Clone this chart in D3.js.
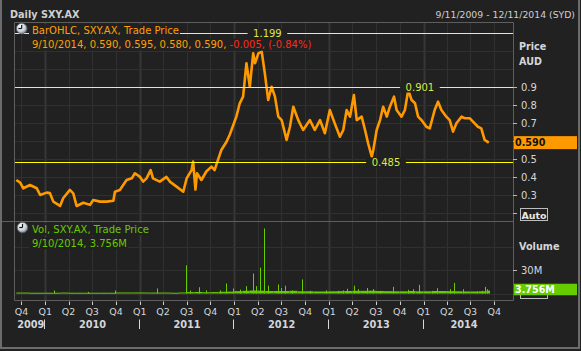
<!DOCTYPE html>
<html>
<head>
<meta charset="utf-8">
<script src="https://cdn.jsdelivr.net/npm/d3@7"></script>
<style>
body { margin: 0; background: #212121; }
svg { display: block; font-family: "DejaVu Sans", sans-serif; }
</style>
</head>
<body>
<div id="chart"></div>
<script>
// ---- data ----
var priceDates = ["2009-09-11","2009-09-26","2009-10-08","2009-11-03","2009-11-29","2009-12-12",
  "2010-01-06","2010-01-19","2010-02-01","2010-02-27","2010-03-11","2010-04-06","2010-04-19","2010-05-02",
  "2010-05-28","2010-06-23","2010-07-05","2010-07-31","2010-08-26","2010-09-21","2010-09-27","2010-10-16",
  "2010-11-11","2010-12-01","2010-12-13","2011-01-02","2011-01-14","2011-01-27","2011-02-12","2011-02-21",
  "2011-03-19","2011-04-14","2011-04-27","2011-05-23","2011-06-18","2011-07-01","2011-07-20","2011-07-26",
  "2011-08-04","2011-08-10","2011-08-27","2011-09-15","2011-10-05","2011-10-17","2011-10-30","2011-11-12",
  "2011-12-02","2011-12-14","2012-01-09","2012-01-22","2012-02-04","2012-02-17","2012-03-01","2012-03-14",
  "2012-03-21","2012-04-03","2012-04-16","2012-04-28","2012-05-11","2012-05-24","2012-06-06","2012-06-19",
  "2012-07-02","2012-07-21","2012-08-03","2012-08-16","2012-09-04","2012-09-23","2012-10-19","2012-11-07",
  "2012-11-27","2012-12-16","2013-01-04","2013-01-23","2013-02-12","2013-02-25","2013-03-10","2013-03-23",
  "2013-04-07","2013-04-18","2013-05-07","2013-05-20","2013-06-01","2013-06-15","2013-06-21","2013-07-04",
  "2013-07-17","2013-07-29","2013-08-12","2013-08-24","2013-09-09","2013-09-19","2013-10-08","2013-10-21",
  "2013-11-03","2013-11-16","2013-11-29","2013-12-11","2013-12-24","2014-01-12","2014-01-25","2014-02-13",
  "2014-02-26","2014-03-11","2014-03-30","2014-04-12","2014-04-25","2014-05-08","2014-05-28","2014-06-09",
  "2014-06-29","2014-07-11","2014-07-30","2014-08-12","2014-08-25","2014-09-10"];
var priceClose = [0.383,0.368,0.337,0.355,0.337,0.300,
  0.313,0.310,0.263,0.239,0.282,0.328,0.309,0.239,
  0.257,0.245,0.272,0.263,0.263,0.268,0.318,0.328,
  0.383,0.392,0.420,0.400,0.374,0.392,0.438,0.392,
  0.374,0.400,0.374,0.346,0.318,0.392,0.438,0.485,
  0.330,0.420,0.383,0.430,0.457,0.438,0.494,0.549,
  0.595,0.632,0.734,0.808,0.845,1.030,0.900,1.085,
  1.030,1.085,1.094,0.974,0.826,0.900,0.845,0.734,
  0.715,0.605,0.678,0.789,0.715,0.660,0.715,0.660,
  0.715,0.642,0.771,0.697,0.623,0.660,0.771,0.734,
  0.854,0.715,0.734,0.660,0.586,0.512,0.549,0.660,
  0.715,0.789,0.734,0.789,0.845,0.771,0.734,0.771,
  0.882,0.826,0.808,0.734,0.715,0.678,0.669,0.771,
  0.817,0.771,0.734,0.715,0.651,0.697,0.734,0.725,
  0.725,0.706,0.678,0.669,0.605,0.590];

// monthly background volume (millions)
var volMonths = ["2009-09","2009-10","2009-11","2009-12",
  "2010-01","2010-02","2010-03","2010-04","2010-05","2010-06","2010-07","2010-08","2010-09","2010-10","2010-11","2010-12",
  "2011-01","2011-02","2011-03","2011-04","2011-05","2011-06","2011-07","2011-08","2011-09","2011-10","2011-11","2011-12",
  "2012-01","2012-02","2012-03","2012-04","2012-05","2012-06","2012-07","2012-08","2012-09","2012-10","2012-11","2012-12",
  "2013-01","2013-02","2013-03","2013-04","2013-05","2013-06","2013-07","2013-08","2013-09","2013-10","2013-11","2013-12",
  "2014-01","2014-02","2014-03","2014-04","2014-05","2014-06","2014-07","2014-08","2014-09"];
var volBase = [1.2,1.2,1.0,1.0,
  1.0,1.0,1.2,1.0,1.0,1.0,1.0,1.0,1.0,1.3,1.3,1.3,
  1.3,1.2,1.2,1.2,1.0,1.3,1.8,2.0,1.6,1.8,2.2,2.4,
  3.0,3.4,3.8,3.6,3.2,3.2,3.2,3.4,2.8,2.8,2.6,2.6,
  2.8,3.0,3.2,3.4,3.4,3.6,3.2,3.0,2.8,2.8,3.2,2.8,
  2.8,3.2,3.2,3.0,2.8,2.6,2.6,2.8,3.6];

// single-day volume spikes (millions)
var volSpikeDates = ["2010-02-04","2010-06-14","2010-09-27","2011-03-09","2011-06-27","2011-07-13","2011-08-18",
  "2011-09-15","2011-11-06","2011-11-29","2011-12-27","2012-01-22","2012-02-17","2012-03-13","2012-03-26",
  "2012-04-08","2012-04-25","2012-05-10","2012-06-18","2012-07-01","2012-07-15","2012-08-09","2012-09-19",
  "2012-10-19","2012-12-20","2013-02-06","2013-02-25","2013-03-10","2013-04-08","2013-04-24","2013-05-26",
  "2013-06-21","2013-07-17","2013-09-06","2013-11-01","2013-11-22","2013-12-15","2014-02-01","2014-02-23",
  "2014-04-13","2014-04-30","2014-06-03","2014-07-25","2014-08-13","2014-08-26","2014-09-02","2014-09-10"];
var volSpikeValues = [3.8,2,3.8,6.4,36,3.8,8,
  4,4,12.8,6.4,5,9.4,25.6,9.4,
  33,83,10,11.5,7,10,4,18,
  3.4,4,3.4,4,6,10,5.5,7,
  5.5,3.4,8.5,4.7,5.5,11,3.4,6.8,
  5.5,13.6,5.5,2.5,3.4,8.5,5.5,3.756];

var levelValues = [1.199, 0.901, 0.485];
var levelLabels = ["1.199", "0.901", "0.485"];
var priceTicks = [0.2, 0.3, 0.4, 0.5, 0.6, 0.7, 0.8, 0.9];
var priceTickLabels = [0.3, 0.4, 0.5, 0.7, 0.8, 0.9];   // 0.2 and 0.6 sit under boxes
var priceGrid = [0.2, 0.3, 0.4, 0.5, 0.6, 0.7, 0.8, 0.9, 1.0, 1.1, 1.2];
var volTicks = [30];
var volGrid = [0, 30, 60];
var years = [2009, 2010, 2011, 2012, 2013, 2014];

var lastClose = 0.590, lastVol = 3.756;
var legendPrice1 = "BarOHLC, SXY.AX, Trade Price";
var legendPrice2a = "9/10/2014, 0.590, 0.595, 0.580, 0.590, ";
var legendPrice2b = "-0.005, (-0.84%)";
var legendVol1 = "Vol, SXY.AX, Trade Price";
var legendVol2 = "9/10/2014, 3.756M";

// ---- layout ----
var W = 581, H = 351;
var L = 14, R = 513, T = 22, MID = 221, B = 300;
var bg = "#212121", grid = "#303030", axisText = "#d2d6dc";
var orange = "#ff9900", green = "#66cc00";

var parse = d3.utcParse("%Y-%m-%d");
var parseM = d3.utcParse("%Y-%m");
var xStart = parse("2009-09-11"), xEnd = parse("2014-12-11");

var x = d3.scaleUtc().domain([xStart, xEnd]).range([16.3, 512.6]);
var yP = d3.scaleLinear().domain([0.2, 0.9]).range([213, 86.7]);
var yV = d3.scaleLinear().domain([0, 30]).range([293.5, 270]);

var prices = priceDates.map(function(d, i) { return {date: parse(d), close: priceClose[i]}; });

var svg = d3.select("#chart").append("svg")
  .attr("width", W).attr("height", H);

svg.append("rect").attr("width", W).attr("height", H).attr("fill", bg);

svg.append("clipPath").attr("id", "clipP")
  .append("rect").attr("x", L).attr("y", T).attr("width", R - L).attr("height", MID - T);
svg.append("clipPath").attr("id", "clipV")
  .append("rect").attr("x", L).attr("y", MID).attr("width", R - L).attr("height", B - MID);

// header
svg.append("text").attr("x", 10).attr("y", 17.5)
  .attr("font-size", 9.7).attr("font-weight", "bold").attr("fill", "#cfcfcf")
  .text("Daily SXY.AX");
svg.append("text").attr("x", 575).attr("y", 17.5).attr("text-anchor", "end")
  .attr("font-size", 9.3).attr("fill", "#cfcfcf")
  .text("9/11/2009 - 12/11/2014 (SYD)");

// grid
var quarters = d3.utcMonth.every(3).range(d3.utcMonth.ceil(xStart), xEnd);
var gridG = svg.append("g");
gridG.selectAll("line.q").data(quarters).enter().append("line")
  .attr("x1", function(d) { return Math.round(x(d)) + 0.5; })
  .attr("x2", function(d) { return Math.round(x(d)) + 0.5; })
  .attr("y1", T).attr("y2", B)
  .attr("stroke", function(d) { return d.getUTCMonth() === 0 ? "#373737" : grid; })
  .attr("stroke-width", function(d) { return d.getUTCMonth() === 0 ? 2 : 1; });
gridG.selectAll("line.p").data(priceGrid).enter().append("line")
  .attr("x1", L).attr("x2", R)
  .attr("y1", function(d) { return Math.round(yP(d)) + 0.5; })
  .attr("y2", function(d) { return Math.round(yP(d)) + 0.5; })
  .attr("stroke", grid).attr("clip-path", "url(#clipP)");
gridG.selectAll("line.v").data(volGrid).enter().append("line")
  .attr("x1", L).attr("x2", R)
  .attr("y1", function(d) { return Math.round(yV(d)) + 0.5; })
  .attr("y2", function(d) { return Math.round(yV(d)) + 0.5; })
  .attr("stroke", grid);

// volume
var volG = svg.append("g").attr("clip-path", "url(#clipV)");
var lastDate = prices[prices.length - 1].date;
volG.selectAll("rect.base").data(volMonths).enter().append("rect")
  .attr("x", function(d) { return x(d3.max([parseM(d), xStart])); })
  .attr("width", function(d) {
    var s = d3.max([parseM(d), xStart]);
    var e = d3.min([d3.utcMonth.offset(parseM(d), 1), d3.utcDay.offset(lastDate, 1)]);
    return x(e) - x(s);
  })
  .attr("y", function(d, i) { return yV(volBase[i]); })
  .attr("height", function(d, i) { return Math.max(1, yV(0) - yV(volBase[i])); })
  .attr("fill", green);
volG.selectAll("rect.spike").data(volSpikeDates).enter().append("rect")
  .attr("x", function(d) { return Math.round(x(parse(d))); })
  .attr("width", 1)
  .attr("y", function(d, i) { return yV(volSpikeValues[i]); })
  .attr("height", function(d, i) { return yV(0) - yV(volSpikeValues[i]); })
  .attr("fill", green);

// price line
svg.append("path").datum(prices)
  .attr("clip-path", "url(#clipP)")
  .attr("fill", "none").attr("stroke", orange).attr("stroke-width", 2.6)
  .attr("stroke-linejoin", "round")
  .attr("d", d3.line().x(function(d) { return x(d.date); }).y(function(d) { return yP(d.close); }));

// horizontal level lines with labels
var labelAt = [parse("2012-05-08"), parse("2013-12-18"), parse("2013-08-09")];
var lvlG = svg.append("g");
levelValues.forEach(function(v, i) {
  var yy = Math.round(yP(v)) + 0.5;
  lvlG.append("line").attr("x1", L).attr("x2", R).attr("y1", yy).attr("y2", yy)
    .attr("stroke", "#ffff00").attr("stroke-width", 1)
    .attr("shape-rendering", "crispEdges");
  var bgR = lvlG.append("rect").attr("fill", bg);
  var t = lvlG.append("text").attr("x", x(labelAt[i])).attr("y", yy + 3.8)
    .attr("text-anchor", "middle").attr("font-size", 10).attr("fill", "#dde844")
    .text(levelLabels[i]);
  var w = t.node().getComputedTextLength();
  bgR.attr("x", x(labelAt[i]) - w / 2 - 5.5).attr("width", w + 11)
    .attr("y", yy - 5).attr("height", 10);
});

// clock icon
var grad = svg.append("defs").append("radialGradient").attr("id", "clockGrad")
  .attr("cx", "40%").attr("cy", "35%").attr("r", "70%");
grad.append("stop").attr("offset", "0%").attr("stop-color", "#ffffff");
grad.append("stop").attr("offset", "60%").attr("stop-color", "#c8d0d8");
grad.append("stop").attr("offset", "100%").attr("stop-color", "#6a7480");
function clock(cx, cy) {
  var g = svg.append("g");
  g.append("circle").attr("cx", cx).attr("cy", cy).attr("r", 5.3)
    .attr("fill", "url(#clockGrad)").attr("stroke", "#5a6068").attr("stroke-width", 0.8);
  g.append("line").attr("x1", cx).attr("y1", cy).attr("x2", cx).attr("y2", cy - 3.6)
    .attr("stroke", "#111").attr("stroke-width", 1.2);
  g.append("line").attr("x1", cx).attr("y1", cy).attr("x2", cx - 3.2).attr("y2", cy)
    .attr("stroke", "#111").attr("stroke-width", 1.2);
}

// legend text with background boxes
function legendRow(yBase, parts) {
  var g = svg.append("g");
  var r = g.append("rect").attr("fill", bg);
  var t = g.append("text").attr("x", 32).attr("y", yBase).attr("font-size", 10);
  parts.forEach(function(p) { t.append("tspan").attr("fill", p[1]).text(p[0]); });
  var w = t.node().getComputedTextLength();
  r.attr("x", 29).attr("y", yBase - 9.5).attr("width", w + 4).attr("height", 12);
}
legendRow(34, [[legendPrice1, "#ffa000"]]);
legendRow(48, [[legendPrice2a, "#ffa000"], [legendPrice2b, "#ff2a1a"]]);
legendRow(232.7, [[legendVol1, green]]);
legendRow(246.7, [[legendVol2, green]]);
clock(21.7, 28.5);
clock(22.5, 227.5);

// frame
var frame = svg.append("g").attr("stroke", "#5e5e5e").attr("fill", "none");
frame.append("path").attr("d",
  "M" + (L + 0.5) + "," + (T + 0.5) + "H" + (R + 0.5) + "V" + (B + 0.5) + "H" + (L + 0.5) + "Z");
frame.append("line").attr("x1", 0).attr("x2", R + 0.5).attr("y1", MID + 0.5).attr("y2", MID + 0.5);

// right price axis
var ax = svg.append("g");
ax.selectAll("line.pt").data(priceTicks).enter().append("line")
  .attr("x1", R).attr("x2", R + 4)
  .attr("y1", function(d) { return Math.round(yP(d)) + 0.5; })
  .attr("y2", function(d) { return Math.round(yP(d)) + 0.5; })
  .attr("stroke", "#b8b8b8");
ax.selectAll("text.pt").data(priceTickLabels).enter().append("text")
  .attr("x", 521).attr("y", function(d) { return yP(d) + 3.8; })
  .attr("font-size", 10).attr("fill", axisText)
  .text(d3.format(".1f"));
ax.append("text").attr("x", 519).attr("y", 50).attr("font-size", 9.6)
  .attr("font-weight", "bold").attr("fill", axisText).text("Price");
ax.append("text").attr("x", 519).attr("y", 65).attr("font-size", 9.6)
  .attr("font-weight", "bold").attr("fill", axisText).text("AUD");

// "Auto" scale buttons
ax.append("rect").attr("x", 520.5).attr("y", 208.5).attr("width", 27).attr("height", 12)
  .attr("fill", bg).attr("stroke", "#bdbdbd");
ax.append("text").attr("x", 534).attr("y", 218.5).attr("text-anchor", "middle")
  .attr("font-size", 9.5).attr("font-weight", "bold").attr("fill", "#e6e6e6").text("Auto");
ax.append("rect").attr("x", 520.5).attr("y", 286.5).attr("width", 27).attr("height", 12)
  .attr("fill", bg).attr("stroke", "#bdbdbd");

// volume axis
ax.selectAll("line.vt").data(volTicks).enter().append("line")
  .attr("x1", R).attr("x2", R + 4)
  .attr("y1", function(d) { return Math.round(yV(d)) + 0.5; })
  .attr("y2", function(d) { return Math.round(yV(d)) + 0.5; })
  .attr("stroke", "#b8b8b8");
ax.selectAll("text.vt").data(volTicks).enter().append("text")
  .attr("x", 521).attr("y", function(d) { return yV(d) + 3.8; })
  .attr("font-size", 10).attr("fill", axisText)
  .text(function(d) { return d + "M"; });
ax.append("text").attr("x", 519).attr("y", 250).attr("font-size", 9.7)
  .attr("font-weight", "bold").attr("fill", axisText).text("Volume");

// last value boxes
var yc = yP(lastClose);
ax.append("rect").attr("x", 514).attr("y", yc - 6.5).attr("width", 63).attr("height", 13).attr("fill", orange);
ax.append("text").attr("x", 515).attr("y", yc + 3.7).attr("font-size", 9.6)
  .attr("font-weight", "bold").attr("fill", "#111").text(d3.format(".3f")(lastClose));
var yvc = yV(lastVol) - 1;
ax.append("rect").attr("x", 514).attr("y", yvc - 5.8).attr("width", 63).attr("height", 11.5).attr("fill", green);
ax.append("text").attr("x", 515).attr("y", yvc + 3.8).attr("font-size", 9.6)
  .attr("font-weight", "bold").attr("fill", "#ffffff").text(lastVol.toFixed(3) + "M");

// bottom time axis
var bx = svg.append("g");
bx.selectAll("line.qt").data(quarters).enter().append("line")
  .attr("x1", function(d) { return Math.round(x(d)) + 0.5; })
  .attr("x2", function(d) { return Math.round(x(d)) + 0.5; })
  .attr("y1", 301.5).attr("y2", 305)
  .attr("stroke", "#d0d0d0");
bx.selectAll("text.qt").data(quarters).enter().append("text")
  .attr("x", function(d) { return x(d); }).attr("y", 315)
  .attr("text-anchor", "middle").attr("font-size", 9.5).attr("fill", axisText)
  .text(function(d) { return "Q" + (Math.floor(d.getUTCMonth() / 3) + 1); });
bx.selectAll("line.yr").data(years.slice(1)).enter().append("line")
  .attr("x1", function(d) { return Math.round(x(Date.UTC(d, 0, 1))) - 0.5; })
  .attr("x2", function(d) { return Math.round(x(Date.UTC(d, 0, 1))) - 0.5; })
  .attr("y1", 319.5).attr("y2", 329)
  .attr("stroke", "#d8d8d8");
bx.selectAll("text.yr").data(years).enter().append("text")
  .attr("x", function(d) {
    var s = Math.max(x(Date.UTC(d, 0, 1)), x(xStart));
    var e = Math.min(x(Date.UTC(d + 1, 0, 1)), x(xEnd) - 8);
    return (s + e) / 2;
  })
  .attr("y", 327.7).attr("text-anchor", "middle")
  .attr("font-size", 9.8).attr("font-weight", "bold").attr("fill", axisText)
  .text(function(d) { return d; });

// window border
var wb = svg.append("g").attr("stroke", "#6c6c6c").attr("stroke-width", 2).attr("fill", "none");
wb.append("line").attr("x1", 1).attr("x2", 1).attr("y1", 0).attr("y2", 349);
wb.append("line").attr("x1", 0).attr("x2", 580).attr("y1", 348).attr("y2", 348);
wb.append("line").attr("x1", 579).attr("x2", 579).attr("y1", 0).attr("y2", 349);
</script>
</body>
</html>
